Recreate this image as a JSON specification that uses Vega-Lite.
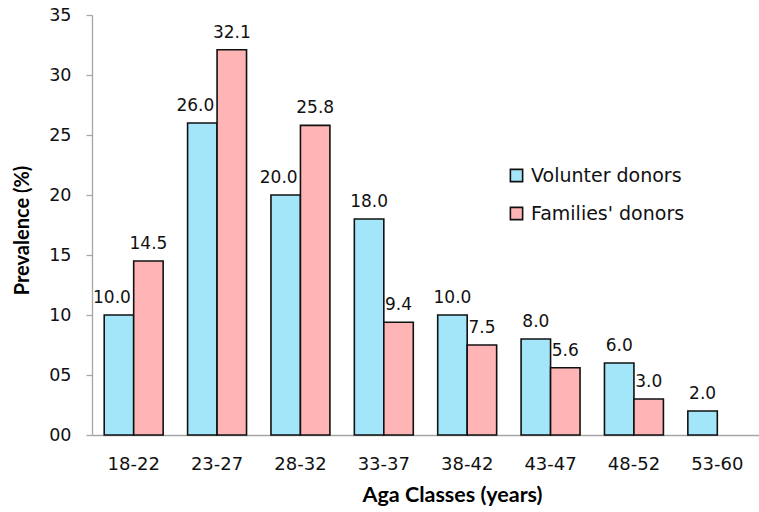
{
  "$schema": "https://vega.github.io/schema/vega-lite/v6.json",
  "width": 667,
  "height": 420,
  "autosize": {"type": "none"},
  "padding": {"left": 92, "top": 15, "right": 0, "bottom": 77},
  "background": "white",
  "config": {"view": {"stroke": null}},
  "data": {"values": [
    {"age": "18-22", "series": "Volunter donors", "value": 10.0},
    {"age": "18-22", "series": "Families' donors", "value": 14.5},
    {"age": "23-27", "series": "Volunter donors", "value": 26.0},
    {"age": "23-27", "series": "Families' donors", "value": 32.1},
    {"age": "28-32", "series": "Volunter donors", "value": 20.0},
    {"age": "28-32", "series": "Families' donors", "value": 25.8},
    {"age": "33-37", "series": "Volunter donors", "value": 18.0},
    {"age": "33-37", "series": "Families' donors", "value": 9.4},
    {"age": "38-42", "series": "Volunter donors", "value": 10.0},
    {"age": "38-42", "series": "Families' donors", "value": 7.5},
    {"age": "43-47", "series": "Volunter donors", "value": 8.0},
    {"age": "43-47", "series": "Families' donors", "value": 5.6},
    {"age": "48-52", "series": "Volunter donors", "value": 6.0},
    {"age": "48-52", "series": "Families' donors", "value": 3.0},
    {"age": "53-60", "series": "Volunter donors", "value": 2.0}
  ]},
  "encoding": {
    "x": {
      "field": "age", "type": "nominal",
      "sort": ["18-22","23-27","28-32","33-37","38-42","43-47","48-52","53-60"],
      "scale": {"paddingInner": 0.293, "paddingOuter": 0.1465},
      "axis": {
        "title": "Aga Classes (years)",
        "titleFont": "Lato", "titleFontWeight": "bold", "titleFontSize": 21.5, "titleColor": "#000000",
        "titleBaseline": "alphabetic", "titleX": 360, "titleY": 66,
        "labelAngle": 0, "labelFont": "DejaVu Sans", "labelFontSize": 18, "labelColor": "#111111",
        "labelBaseline": "middle", "labelPadding": 29,
        "ticks": false, "tickSize": 0,
        "domainColor": "#a6a6a6", "domainWidth": 1.3, "grid": false
      }
    },
    "xOffset": {"field": "series", "type": "nominal", "sort": ["Volunter donors", "Families' donors"], "scale": {"paddingInner": 0, "paddingOuter": 0}},
    "y": {
      "field": "value", "type": "quantitative",
      "scale": {"domain": [0, 35], "nice": false, "zero": true},
      "axis": {
        "title": "Prevalence (%)",
        "titleFont": "Lato", "titleFontWeight": "bold", "titleFontSize": 20, "titleColor": "#000000",
        "titleAngle": -90, "titleBaseline": "alphabetic", "titleX": -64, "titleY": 215,
        "values": [0, 5, 10, 15, 20, 25, 30, 35], "format": "02d",
        "labelFont": "DejaVu Sans", "labelFontSize": 17.5, "labelColor": "#111111",
        "labelPadding": 15, "tickSize": 6, "tickColor": "#a6a6a6", "tickWidth": 1.3,
        "domainColor": "#a6a6a6", "domainWidth": 1.3, "grid": false
      }
    }
  },
  "layer": [
    {
      "mark": {"type": "bar", "stroke": "#111111", "strokeWidth": 1.6},
      "encoding": {
        "fill": {
          "field": "series", "type": "nominal",
          "scale": {"domain": ["Volunter donors", "Families' donors"], "range": ["#a3e6fa", "#ffb5b5"]},
          "legend": {
            "title": null, "orient": "none", "legendX": 415, "legendY": 151,
            "padding": 0, "symbolType": "square", "symbolSize": 150,
            "symbolStrokeColor": "#111111", "symbolStrokeWidth": 1.6,
            "labelFont": "DejaVu Sans", "labelFontSize": 19, "labelColor": "#111111",
            "labelOffset": 5, "rowPadding": 18
          }
        }
      }
    },
    {
      "transform": [
        {"filter": "datum.series == 'Volunter donors' && indexof(['18-22','23-27','28-32'], datum.age) >= 0"}
      ],
      "mark": {"type": "text", "font": "DejaVu Sans", "fontSize": 17, "color": "#111111", "baseline": "alphabetic", "dy": -12, "dx": -7},
      "encoding": {"text": {"field": "value", "type": "quantitative", "format": ".1f"}}
    },
    {
      "transform": [
        {"filter": "!(datum.series == 'Volunter donors' && indexof(['18-22','23-27','28-32'], datum.age) >= 0)"}
      ],
      "mark": {"type": "text", "font": "DejaVu Sans", "fontSize": 17, "color": "#111111", "baseline": "alphabetic", "dy": -12},
      "encoding": {"text": {"field": "value", "type": "quantitative", "format": ".1f"}}
    }
  ]
}
